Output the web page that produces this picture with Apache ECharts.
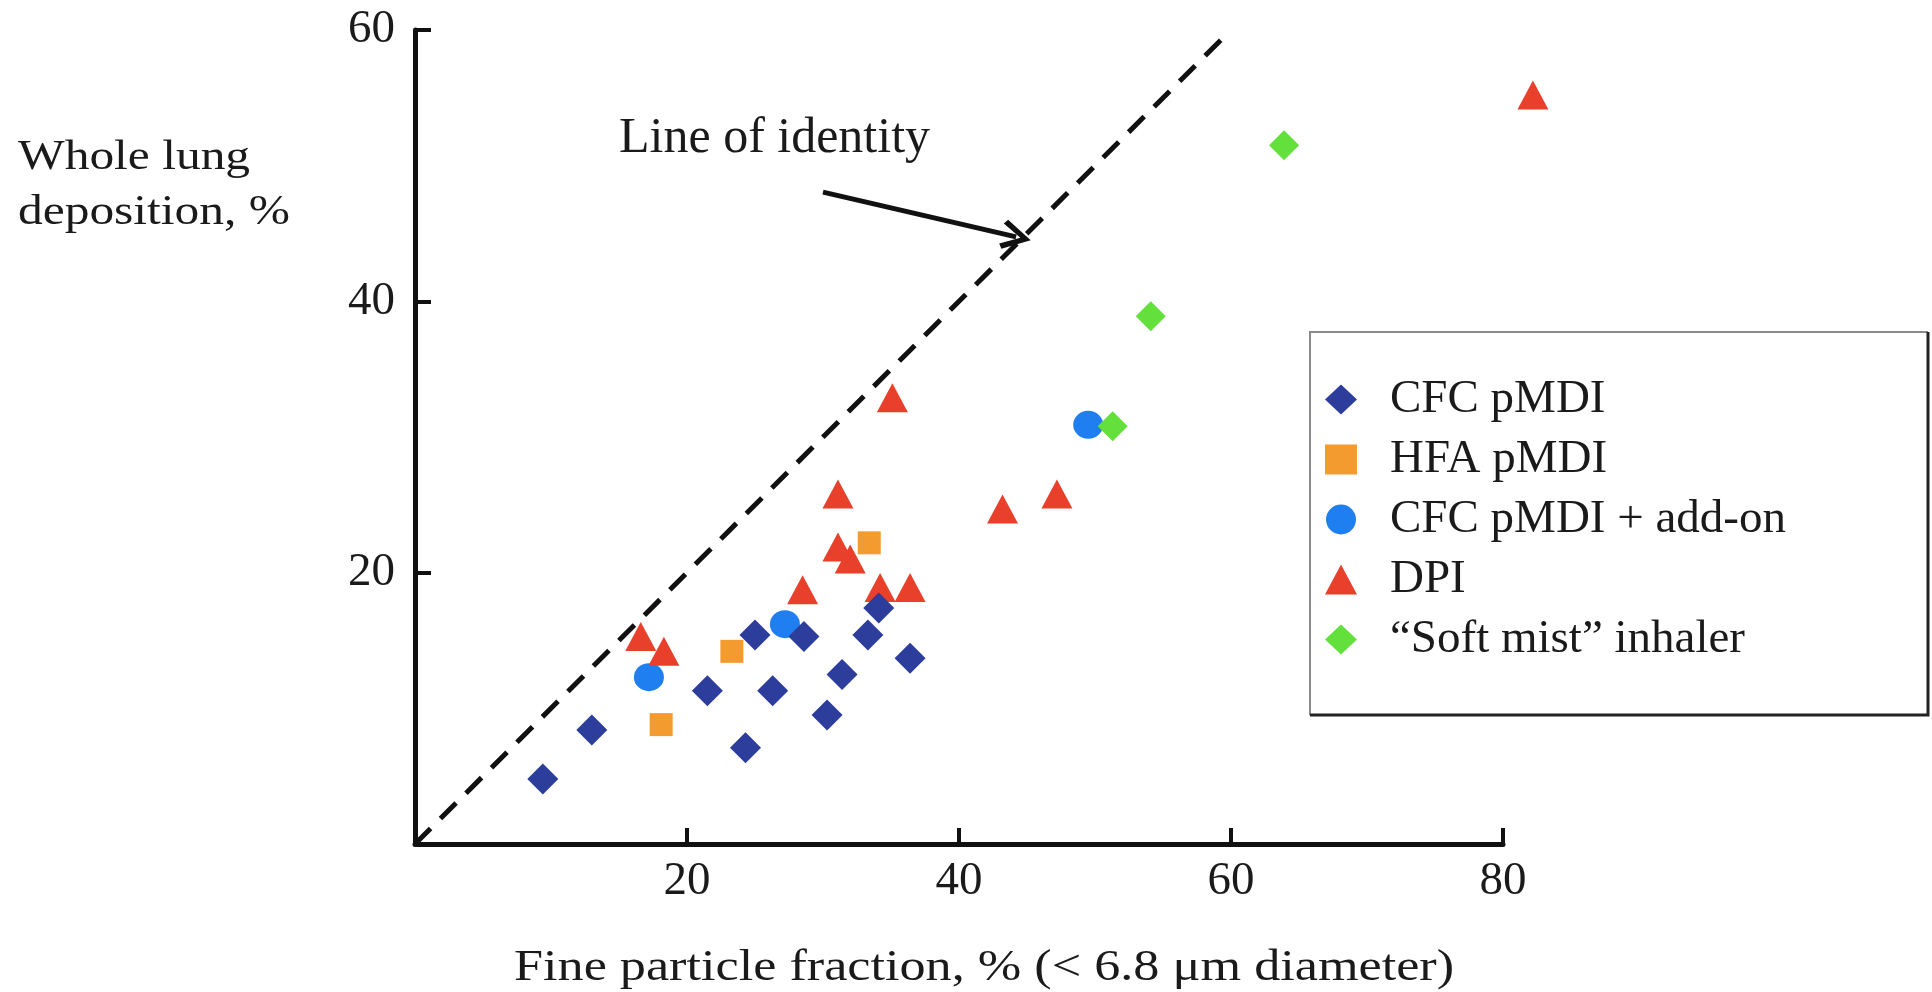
<!DOCTYPE html>
<html>
<head>
<meta charset="utf-8">
<script src="https://cdn.jsdelivr.net/npm/echarts@6/dist/echarts.min.js"></script>
<style>
html,body{margin:0;padding:0;background:#fff;}
#chart{width:1932px;height:992px;}
</style>
</head>
<body>
<div id="chart"></div>
<script>
// ---- data (x = fine particle fraction %, y = whole lung deposition %) ----
const seriesNames = ['CFC pMDI', 'HFA pMDI', 'CFC pMDI + add-on', 'DPI', '\u201cSoft mist\u201d inhaler'];
const cfcPmdi = [[9.4,4.8],[13.0,8.4],[21.5,11.3],[24.3,7.1],[25.0,15.4],[26.3,11.3],[28.6,15.3],[30.3,9.5],[31.4,12.5],[33.3,15.4],[34.1,17.4],[36.4,13.7]];
const hfaPmdi = [[18.1,8.8],[23.3,14.2],[33.4,22.2]];
const cfcAddOn = [[17.2,12.3],[27.2,16.2],[49.5,30.9]];
const dpi = [[16.6,15.3],[18.3,14.2],[28.5,18.75],[31.1,25.8],[31.1,21.9],[32.0,21.0],[34.2,18.9],[36.4,18.9],[35.1,32.9],[43.2,24.7],[47.2,25.8],[82.2,55.2]];
const softMist = [[51.3,30.8],[54.1,38.9],[63.9,51.5]];
const identityLine = [[0,0],[59.5,59.5]];
const arrowFrom = [30.0,48.05];
const arrowTo = [44.2,44.75];
const xTicks = {min:0, max:80, interval:20};
const yTicks = {min:0, max:60, interval:20};
const xTitle = 'Fine particle fraction, % (< 6.8 \u03bcm diameter)';
const yTitle = 'Whole lung\ndeposition, %';
const annotation = 'Line of identity';

const serif = '"Liberation Serif", "Times New Roman", serif';
const chart = echarts.init(document.getElementById('chart'), null, {renderer:'canvas'});

const axisCommon = {
  type:'value',
  axisLine:{show:true, lineStyle:{color:'#111', width:5}},
  axisTick:{show:true, inside:true, length:16, lineStyle:{color:'#111', width:4}},
  splitLine:{show:false},
  axisLabel:{showMinLabel:false, color:'#1a1a1a', fontFamily:serif, fontSize:47}
};

const openArrow = 'path://M50,0 L100,80 L84,90 L50,32 L16,90 L0,80 Z';

chart.setOption({
  animation:false,
  backgroundColor:'#fff',
  grid:{left:415, right:429, top:30, bottom:148, containLabel:false},
  xAxis:Object.assign({}, axisCommon, xTicks, {axisLabel:Object.assign({}, axisCommon.axisLabel, {margin:14})}),
  yAxis:Object.assign({}, axisCommon, yTicks, {axisLabel:Object.assign({}, axisCommon.axisLabel, {margin:20})}),
  legend:{
    orient:'vertical', left:1310, top:332,
    padding:[44, 20, 20, 15],
    itemWidth:32, itemHeight:30, itemGap:13,
    data:seriesNames,
    textStyle:{fontFamily:serif, fontSize:47, color:'#1a1a1a', padding:[0,0,0,28]},
    selectedMode:false
  },
  graphic:[
    {type:'polyline', silent:true, shape:{points:[[1310,715],[1310,332],[1928,332]]}, style:{stroke:'#8a8a8a', lineWidth:2, fill:null}},
    {type:'polyline', silent:true, shape:{points:[[1310,715],[1928,715],[1928,332]]}, style:{stroke:'#222', lineWidth:3, fill:null}},
    {type:'text', silent:true, x:18, y:130, scaleX:1.15, style:{text:yTitle, x:0, y:0, font:'43px ' + serif, fill:'#1a1a1a', lineHeight:55, textAlign:'left', verticalAlign:'top'}},
    {type:'text', silent:true, x:514, y:940, scaleX:1.16, style:{text:xTitle, x:0, y:0, font:'45px ' + serif, fill:'#1a1a1a', lineHeight:56, textAlign:'left', verticalAlign:'top'}},
    {type:'text', silent:true, x:619, y:109, style:{text:annotation, x:0, y:0, font:'50px ' + serif, fill:'#1a1a1a', lineHeight:60, textAlign:'left', verticalAlign:'top'}}
  ],
  series:[
    {
      name:'identity', type:'line', data:identityLine, symbol:'none', showSymbol:false, silent:true, z:1,
      lineStyle:{color:'#111', width:5, type:[22,14]},
      markLine:{
        silent:true, animation:false, label:{show:false},
        lineStyle:{color:'#111', width:5, type:'solid'},
        data:[[{coord:arrowFrom, symbol:'none'}, {coord:arrowTo, symbol:openArrow, symbolSize:[30,30]}]]
      }
    },
    {name:seriesNames[1], type:'scatter', data:hfaPmdi, symbol:'rect', symbolSize:23, z:3, itemStyle:{color:'#f49b30', opacity:1}},
    {name:seriesNames[2], type:'scatter', data:cfcAddOn, symbol:'circle', symbolSize:[30,28], z:2, itemStyle:{color:'#1f7ff0', opacity:1}},
    {name:seriesNames[3], type:'scatter', data:dpi, symbol:'triangle', symbolSize:[31,29], z:4, clip:false, itemStyle:{color:'#e8402b', opacity:1}},
    {name:seriesNames[4], type:'scatter', data:softMist, symbol:'diamond', symbolSize:[30,30], z:3, itemStyle:{color:'#63e03c', opacity:1}},
    {name:seriesNames[0], type:'scatter', data:cfcPmdi, symbol:'diamond', symbolSize:[31,31], z:5, itemStyle:{color:'#2c3d9c', opacity:1}}
  ]
});
</script>
</body>
</html>
